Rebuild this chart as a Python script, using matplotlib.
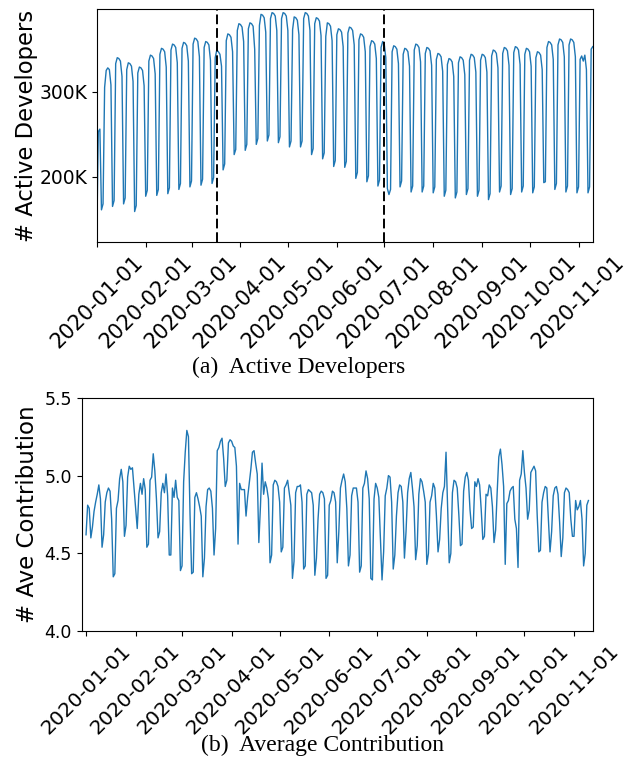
import numpy as np
import pandas as pd
import matplotlib
matplotlib.use("Agg")
import matplotlib.pyplot as plt
import matplotlib.dates as mdates

# daily series, 2020-01-01 (Wed) .. 2020-11-10; rows after the first run Mon..Sun
dates = pd.date_range("2020-01-01", "2020-11-10", freq="D")

# active developers per day, in thousands
active_devs = [
    123, 253, 256, 161, 168,
    305, 325, 328, 326, 308, 165, 172,
    333, 340, 339, 336, 318, 168, 175,
    326, 334, 333, 330, 312, 159, 166,
    322, 329, 328, 325, 307, 177, 184,
    336, 343, 342, 339, 321, 178, 185,
    344, 351, 350, 347, 329, 180, 187,
    349, 356, 355, 352, 334, 185, 192,
    351, 358, 357, 354, 336, 188, 195,
    356, 363, 362, 359, 341, 190, 197,
    352, 359, 358, 355, 337, 192, 199,
    340, 349, 347, 344, 330, 208, 215,
    360, 368, 367, 364, 347, 226, 232,
    372, 380, 379, 376, 359, 231, 238,
    374, 381, 380, 377, 350, 238, 245,
    378, 391, 390, 387, 370, 242, 249,
    386, 393, 392, 389, 372, 240, 247,
    386, 393, 392, 389, 372, 235, 242,
    373, 388, 387, 384, 367, 235, 242,
    386, 393, 392, 389, 372, 226, 233,
    380, 387, 386, 383, 366, 221, 228,
    365, 381, 380, 377, 360, 212, 219,
    367, 374, 373, 370, 353, 211, 218,
    369, 376, 375, 372, 355, 198, 205,
    361, 368, 367, 364, 347, 194, 201,
    353, 360, 359, 356, 339, 189, 196,
    352, 359, 356, 340, 186, 179, 185,
    347, 354, 353, 350, 333, 188, 195,
    344, 351, 350, 347, 330, 182, 189,
    349, 356, 355, 352, 335, 182, 189,
    345, 352, 351, 348, 331, 181, 188,
    338, 345, 344, 341, 324, 177, 184,
    332, 339, 338, 335, 318, 175, 182,
    334, 341, 340, 337, 320, 179, 186,
    337, 344, 343, 340, 323, 177, 184,
    337, 344, 343, 340, 323, 173, 180,
    342, 349, 348, 345, 328, 182, 189,
    345, 352, 351, 348, 331, 179, 186,
    346, 353, 352, 349, 332, 182, 189,
    344, 351, 350, 347, 330, 181, 188,
    340, 347, 346, 343, 326, 193, 194,
    352, 359, 358, 355, 338, 185, 192,
    355, 362, 361, 358, 341, 182, 189,
    355, 362, 361, 358, 341, 181, 188,
    338, 342, 336, 343, 326, 181, 188,
    350, 353,
]

# average contribution per active developer
ave_contrib = [
    4.62, 4.81, 4.79, 4.60, 4.67,
    4.77, 4.83, 4.88, 4.94, 4.85, 4.54, 4.62,
    4.83, 4.89, 4.92, 4.90, 4.72, 4.35, 4.37,
    4.79, 4.84, 4.98, 5.04, 4.96, 4.61, 4.68,
    4.99, 5.06, 5.04, 5.05, 4.92, 4.79, 4.66,
    4.88, 4.95, 4.88, 4.98, 4.91, 4.54, 4.56,
    4.97, 4.99, 5.14, 5.03, 4.85, 4.60, 4.64,
    4.89, 4.95, 4.89, 5.01, 4.87, 4.49, 4.49,
    4.92, 4.86, 4.97, 4.86, 4.84, 4.39, 4.42,
    4.96, 5.15, 5.29, 5.25, 4.75, 4.37, 4.38,
    4.86, 4.89, 4.85, 4.80, 4.74, 4.35, 4.47,
    4.80, 4.91, 4.92, 4.90, 4.79, 4.49, 4.66,
    5.16, 5.18, 5.22, 5.24, 5.11, 4.93, 4.97,
    5.21, 5.23, 5.22, 5.19, 5.18, 5.06, 4.56,
    4.95, 4.91, 4.91, 4.91, 4.74, 4.86, 4.95,
    5.04, 5.15, 5.16, 5.08, 5.01, 4.57, 4.80,
    5.08, 4.88, 4.96, 4.92, 4.85, 4.44, 4.49,
    4.94, 4.97, 4.96, 4.93, 4.83, 4.51, 4.54,
    4.92, 4.94, 4.97, 4.89, 4.81, 4.34, 4.45,
    4.89, 4.93, 4.93, 4.94, 4.83, 4.40, 4.42,
    4.88, 4.91, 4.90, 4.89, 4.81, 4.36, 4.47,
    4.72, 4.88, 4.90, 4.89, 4.85, 4.34, 4.36,
    4.81, 4.84, 4.90, 4.89, 4.83, 4.44, 4.64,
    4.92, 4.97, 5.01, 4.96, 4.79, 4.42, 4.49,
    4.87, 4.92, 4.92, 4.92, 4.83, 4.38, 4.42,
    4.92, 4.95, 5.03, 4.98, 4.85, 4.34, 4.33,
    4.85, 4.95, 4.92, 4.86, 4.60, 4.33, 4.51,
    4.87, 4.92, 5.00, 4.99, 4.83, 4.40, 4.49,
    4.74, 4.89, 4.94, 4.93, 4.83, 4.47, 4.64,
    4.89, 4.98, 5.02, 4.92, 4.80, 4.46, 4.55,
    4.88, 4.98, 4.96, 4.90, 4.83, 4.43, 4.50,
    4.83, 4.87, 4.95, 4.92, 4.74, 4.51, 4.59,
    4.79, 4.89, 4.93, 5.15, 4.79, 4.44, 4.50,
    4.89, 4.97, 4.96, 4.92, 4.75, 4.55, 4.56,
    4.90, 4.99, 5.02, 4.97, 4.78, 4.66, 4.67,
    4.96, 4.93, 4.98, 4.94, 4.78, 4.59, 4.61,
    4.88, 4.87, 4.94, 4.92, 4.80, 4.57, 4.65,
    4.90, 5.12, 5.17, 5.07, 4.93, 4.43, 4.82,
    4.84, 4.90, 4.92, 4.93, 4.72, 4.66, 4.41,
    4.97, 5.01, 5.16, 5.02, 4.92, 4.72, 4.78,
    5.02, 5.04, 5.06, 5.03, 4.74, 4.51, 4.52,
    4.83, 4.89, 4.93, 4.92, 4.72, 4.51, 4.64,
    4.87, 4.92, 4.93, 4.88, 4.70, 4.48, 4.60,
    4.89, 4.92, 4.91, 4.89, 4.72, 4.61, 4.61,
    4.84, 4.78, 4.80, 4.84, 4.72, 4.42, 4.50,
    4.81, 4.84,
]

# period boundaries marked on the developer plot
phase_marks = ["2020-03-17", "2020-07-01"]

dev_ticks = [200, 300]
dev_ticklabels = ["200K", "300K"]
contrib_ticks = [4.0, 4.5, 5.0, 5.5]

line_color = "#1f77b4"
date_fmt = mdates.DateFormatter("%Y-%m-%d")

fig = plt.figure(figsize=(6.33, 7.70), dpi=100)

# (a) active developers
ax1 = fig.add_axes([0.1528, 0.6853, 0.7836, 0.3026])
ax1.plot(dates, active_devs, color=line_color, linewidth=1.0)
for d in phase_marks:
    ax1.axvline(pd.Timestamp(d), color="black", linestyle=(0, (5, 2)), linewidth=1.4)
ax1.set_xlim(dates[0], dates[-1])
ax1.set_ylim(122.8, 396.9)
ax1.set_yticks(dev_ticks)
ax1.set_yticklabels(dev_ticklabels, fontsize=13.5)
ax1.set_ylabel("# Active Developers", fontsize=16.3)
ax1.yaxis.set_label_coords(-0.118, 0.5)
ax1.xaxis.set_major_locator(mdates.MonthLocator())
ax1.xaxis.set_major_formatter(date_fmt)
plt.setp(ax1.get_xticklabels(), rotation=45, fontsize=15)

# (b) average contribution
ax2 = fig.add_axes([0.1291, 0.1801, 0.8073, 0.3034])
ax2.plot(dates, ave_contrib, color=line_color, linewidth=1.0)
ax2.margins(x=0.0086)
ax2.set_ylim(4.0, 5.5)
ax2.set_yticks(contrib_ticks)
ax2.set_yticklabels([f"{v:.1f}" for v in contrib_ticks], fontsize=12.5)
ax2.set_ylabel("# Ave Contribution", fontsize=16.5)
ax2.yaxis.set_label_coords(-0.084, 0.5)
ax2.xaxis.set_major_locator(mdates.MonthLocator())
ax2.xaxis.set_major_formatter(date_fmt)
plt.setp(ax2.get_xticklabels(), rotation=45, fontsize=14.5)

fig.text(0.472, 1 - 367 / 770, "(a)  Active Developers", ha="center", va="center",
         family="Liberation Serif", fontsize=17)
fig.text(0.510, 1 - 745 / 770, "(b)  Average Contribution", ha="center", va="center",
         family="Liberation Serif", fontsize=17)

fig.savefig("out.png", dpi=100)
